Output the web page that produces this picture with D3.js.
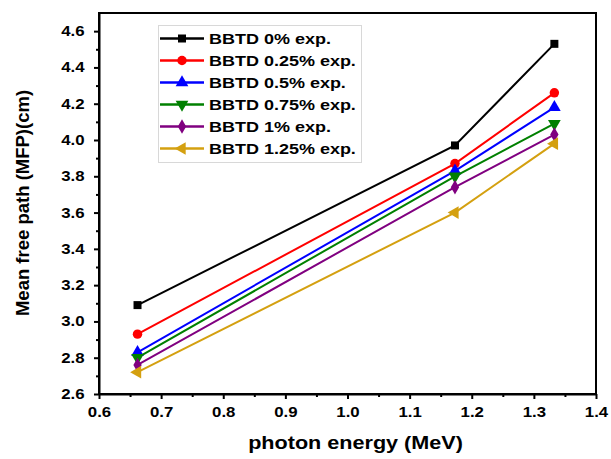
<!DOCTYPE html>
<html>
<head>
<meta charset="utf-8">
<script src="https://cdn.jsdelivr.net/npm/d3@7"></script>
<style>
  body { margin: 0; background: #fff; }
  svg { display: block; font-family: Arial, "Liberation Sans", sans-serif; }
</style>
</head>
<body>
<div class="chart"></div>
<script>
const W = 611, H = 459;
const margin = ({top: 13, right: 15, bottom: 65, left: 99});
const width = W - margin.left - margin.right;
const height = H - margin.top - margin.bottom;
const stretch = 1.2; // the reference text is a bit wider than plain Arial

// DATA ----------------------------------------------
const energies = [0.662, 1.173, 1.333];
const seriesNames = ['BBTD 0% exp.', 'BBTD 0.25% exp.', 'BBTD 0.5% exp.',
  'BBTD 0.75% exp.', 'BBTD 1% exp.', 'BBTD 1.25% exp.'];
const mfp0 = [3.09, 3.97, 4.53];
const mfp025 = [2.93, 3.87, 4.26];
const mfp05 = [2.83, 3.83, 4.18];
const mfp075 = [2.80, 3.80, 4.09];
const mfp1 = [2.76, 3.74, 4.03];
const mfp125 = [2.72, 3.60, 3.98];
const xTicks = [0.6, 0.7, 0.8, 0.9, 1.0, 1.1, 1.2, 1.3, 1.4];
const yTicks = [2.6, 2.8, 3.0, 3.2, 3.4, 3.6, 3.8, 4.0, 4.2, 4.4, 4.6];

const colors = ['#000000', '#ff0000', '#0000ff', '#008000', '#800080', '#d4a010'];
const shapes = ['square', 'circle', 'up', 'down', 'diamond', 'left'];

const series = [mfp0, mfp025, mfp05, mfp075, mfp1, mfp125].map((vals, i) => ({
  name: seriesNames[i],
  color: colors[i],
  shape: shapes[i],
  values: vals.map((v, j) => ({x: energies[j], y: v}))
}));

// CHART INIT ----------------------------------------
const svg = d3.select('.chart').append('svg')
  .attr('width', W)
  .attr('height', H);

const g = svg.append('g')
  .attr('transform', `translate(${margin.left},${margin.top})`);

const xScale = d3.scaleLinear().domain([0.6, 1.4]).range([0, width]);
const yScale = d3.scaleLinear().domain([2.6, 4.7]).range([height, 0]);

// minor ticks
const xMinor = d3.range(0.65, 1.4, 0.1);
const yMinor = d3.range(2.7, 4.7, 0.2);

const xAxis = d3.axisBottom(xScale).tickValues(xTicks)
  .tickFormat(d3.format('.1f')).tickSize(5).tickSizeOuter(0);
const yAxis = d3.axisLeft(yScale).tickValues(yTicks)
  .tickFormat(d3.format('.1f')).tickSize(5).tickSizeOuter(0);

g.append('g')
  .attr('class', 'axis x-axis')
  .attr('transform', `translate(0,${height})`)
  .call(xAxis);

g.append('g')
  .attr('class', 'axis y-axis')
  .call(yAxis);

g.append('g')
  .attr('transform', `translate(0,${height})`)
  .call(d3.axisBottom(xScale).tickValues(xMinor).tickSize(3).tickSizeOuter(0).tickFormat(''))
  .call(a => a.select('.domain').remove());

g.append('g')
  .call(d3.axisLeft(yScale).tickValues(yMinor).tickSize(3).tickSizeOuter(0).tickFormat(''))
  .call(a => a.select('.domain').remove());

g.selectAll('.tick line').attr('stroke', '#000').attr('stroke-width', 2);
g.selectAll('.axis .domain').attr('stroke', '#000').attr('stroke-width', 2);
g.selectAll('.axis text')
  .attr('fill', '#000')
  .style('font-size', '14px')
  .style('font-weight', 'bold')
  .attr('transform', `scale(${stretch},1)`);
g.selectAll('.x-axis text').attr('dy', '1.1em');
g.selectAll('.y-axis text').attr('x', -12).attr('dx', 0);

// frame
g.append('rect')
  .attr('width', width)
  .attr('height', height)
  .attr('fill', 'none')
  .attr('stroke', '#000')
  .attr('stroke-width', 2);

// axis titles
svg.append('text')
  .attr('transform', `translate(${margin.left + width / 2 + 8},449) scale(${stretch},1)`)
  .attr('text-anchor', 'middle')
  .style('font-size', '18px')
  .style('font-weight', 'bold')
  .text('photon energy (MeV)');

svg.append('text')
  .attr('transform', `translate(29,${margin.top + 190}) rotate(-90)`)
  .attr('text-anchor', 'middle')
  .style('font-size', '18.5px')
  .style('font-weight', 'bold')
  .text('Mean free path (MFP)(cm)');

// MARKERS -------------------------------------------
const symbolFor = {
  square: d3.symbol().type(d3.symbolSquare).size(64),
  circle: d3.symbol().type(d3.symbolCircle).size(70),
  up: d3.symbol().type(d3.symbolTriangle).size(70),
  down: d3.symbol().type(d3.symbolTriangle).size(70),
  diamond: d3.symbol().type(d3.symbolDiamond).size(60),
  left: d3.symbol().type(d3.symbolTriangle).size(70)
};
const rotFor = {square: 0, circle: 0, up: 0, down: 180, diamond: 0, left: -90};

function drawMarker(sel, s, x, y) {
  sel.append('path')
    .attr('d', symbolFor[s.shape]())
    .attr('transform', `translate(${x},${y}) rotate(${rotFor[s.shape]})`)
    .attr('fill', s.color);
}

const line = d3.line().x(d => xScale(d.x)).y(d => yScale(d.y));

const plot = g.append('g');
series.forEach(s => {
  plot.append('path')
    .datum(s.values)
    .attr('d', line)
    .attr('fill', 'none')
    .attr('stroke', s.color)
    .attr('stroke-width', 2);
  s.values.forEach(p => drawMarker(plot, s, xScale(p.x), yScale(p.y)));
});

// LEGEND --------------------------------------------
const legend = svg.append('g');
legend.append('rect')
  .attr('x', 158.5).attr('y', 25.5)
  .attr('width', 203).attr('height', 137)
  .attr('fill', '#fff')
  .attr('stroke', '#d8d8d8')
  .attr('stroke-width', 1);

series.forEach((s, i) => {
  const y = 38.5 + i * 22;
  legend.append('line')
    .attr('x1', 160).attr('x2', 204)
    .attr('y1', y).attr('y2', y)
    .attr('stroke', s.color)
    .attr('stroke-width', 2.5);
  drawMarker(legend, s, 182, y);
  legend.append('text')
    .attr('transform', `translate(209,${y}) scale(${stretch},1)`)
    .attr('dy', '0.36em')
    .style('font-size', '15px')
    .style('font-weight', 'bold')
    .text(s.name);
});
</script>
</body>
</html>
